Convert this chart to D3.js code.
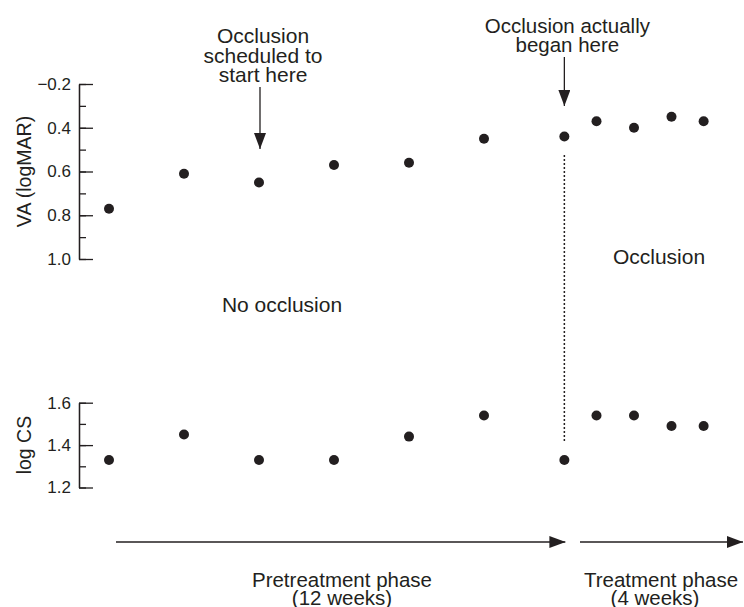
<!DOCTYPE html>
<html>
<head>
<meta charset="utf-8">
<script src="https://cdn.jsdelivr.net/npm/d3@7"></script>
<style>
  html, body { margin: 0; padding: 0; background: #fff; }
  svg { display: block; }
  text { font-family: "Liberation Sans", Arial, Helvetica, sans-serif; fill: #231f20; }
</style>
</head>
<body>
<svg id="chart" width="744" height="607"></svg>
<script>
// ---- data ----
const days = [0, 14, 28, 42, 56, 70, 85, 91, 98, 105, 111];
const vaValues = [0.77, 0.61, 0.65, 0.57, 0.56, 0.45, 0.44, 0.37, 0.40, 0.35, 0.37];
const csValues = [1.33, 1.45, 1.33, 1.33, 1.44, 1.54, 1.33, 1.54, 1.54, 1.49, 1.49];

const vaMinorTicks = [0.2, 0.3, 0.4, 0.5, 0.6, 0.7, 0.8, 0.9, 1.0];
const vaMajorTicks = [0.2, 0.4, 0.6, 0.8, 1.0];
const vaTickLabels = ["\u22120.2", "0.4", "0.6", "0.8", "1.0"];
const csMinorTicks = [1.2, 1.3, 1.4, 1.5, 1.6];
const csMajorTicks = [1.2, 1.4, 1.6];
const csTickLabels = ["1.2", "1.4", "1.6"];

const scheduledDay = 28;   // occlusion scheduled
const actualDay = 85;      // occlusion actually began
const pretreatmentLabel = ["Pretreatment phase", "(12 weeks)"];
const treatmentLabel = ["Treatment phase", "(4 weeks)"];

// ---- layout ----
const svg = d3.select("#chart");
const ink = "#231f20";
const axisX = 79;

const x = d3.scaleLinear().domain([0, 84]).range([109, 559]);
const yVA = d3.scaleLinear().domain([0.2, 1.0]).range([84, 259]);
const yCS = d3.scaleLinear().domain([1.2, 1.6]).range([487.5, 402.7]);

// arrow marker
const defs = svg.append("defs");
defs.append("marker")
  .attr("id", "head")
  .attr("viewBox", "0 0 16 12")
  .attr("refX", 16).attr("refY", 6)
  .attr("markerUnits", "userSpaceOnUse")
  .attr("markerWidth", 16).attr("markerHeight", 12)
  .attr("orient", "auto")
  .append("path").attr("d", "M0,0 L16,6 L0,12 Z").attr("fill", ink);

function drawAxis(scale, minor, major, labels) {
  const g = svg.append("g").attr("transform", `translate(${axisX},0)`);
  g.append("g")
    .call(d3.axisLeft(scale).tickValues(minor).tickSizeInner(-7).tickSizeOuter(0).tickFormat(""))
    .call(s => s.selectAll("path,line").attr("stroke", ink).attr("stroke-width", 1.3));
  g.append("g")
    .call(d3.axisLeft(scale).tickValues(major).tickSizeInner(-14).tickSizeOuter(0).tickPadding(8)
      .tickFormat((d, i) => labels[i]))
    .call(s => s.selectAll("path,line").attr("stroke", ink).attr("stroke-width", 1.3))
    .call(s => s.selectAll("text").attr("font-size", 17).attr("fill", ink)
      .style("font-family", '"Liberation Sans", Arial, sans-serif'));
}
drawAxis(yVA, vaMinorTicks, vaMajorTicks, vaTickLabels);
drawAxis(yCS, csMinorTicks, csMajorTicks, csTickLabels);

// axis titles
svg.append("text").attr("transform", `translate(24,${(yVA(0.2) + yVA(1.0)) / 2}) rotate(-90)`)
  .attr("text-anchor", "middle").attr("dy", "0.35em").attr("font-size", 19.5).text("VA (logMAR)");
svg.append("text").attr("transform", `translate(24,${(yCS(1.2) + yCS(1.6)) / 2}) rotate(-90)`)
  .attr("text-anchor", "middle").attr("dy", "0.35em").attr("font-size", 19.5).text("log CS");

// dotted line at actual start
svg.append("line")
  .attr("x1", x(actualDay)).attr("x2", x(actualDay))
  .attr("y1", 155).attr("y2", 443)
  .attr("stroke", ink).attr("stroke-width", 1.5).attr("stroke-dasharray", "2,2");

// points
svg.append("g").selectAll("circle").data(days).join("circle")
  .attr("cx", (d) => x(d)).attr("cy", (d, i) => yVA(vaValues[i])).attr("r", 5).attr("fill", ink);
svg.append("g").selectAll("circle").data(days).join("circle")
  .attr("cx", (d) => x(d)).attr("cy", (d, i) => yCS(csValues[i])).attr("r", 5).attr("fill", ink);

// annotations
function multiline(lines, cxs, y0, step, size) {
  const t = svg.append("text").attr("text-anchor", "middle").attr("font-size", size);
  lines.forEach((l, i) => t.append("tspan")
    .attr("x", Array.isArray(cxs) ? cxs[i] : cxs).attr("y", y0 + i * step).text(l));
}
multiline(["Occlusion", "scheduled to", "start here"], x(scheduledDay) + 4, 43, 19.7, 21);
svg.append("line").attr("x1", x(scheduledDay) + 1).attr("x2", x(scheduledDay) + 1)
  .attr("y1", 87).attr("y2", 149).attr("stroke", ink).attr("stroke-width", 1.3)
  .attr("marker-end", "url(#head)");

multiline(["Occlusion actually", "began here"], x(actualDay) + 3, 32.5, 19, 20.5);
svg.append("line").attr("x1", x(actualDay)).attr("x2", x(actualDay))
  .attr("y1", 57).attr("y2", 106).attr("stroke", ink).attr("stroke-width", 1.3)
  .attr("marker-end", "url(#head)");

svg.append("text").attr("x", 282).attr("y", 312).attr("text-anchor", "middle")
  .attr("font-size", 21).text("No occlusion");
svg.append("text").attr("x", 659).attr("y", 264).attr("text-anchor", "middle")
  .attr("font-size", 21).text("Occlusion");

// phase arrows
const arrowY = 542;
svg.append("line").attr("x1", 116).attr("x2", x(actualDay) + 1)
  .attr("y1", arrowY).attr("y2", arrowY).attr("stroke", ink).attr("stroke-width", 1.3)
  .attr("marker-end", "url(#head)");
svg.append("line").attr("x1", 580).attr("x2", 743)
  .attr("y1", arrowY).attr("y2", arrowY).attr("stroke", ink).attr("stroke-width", 1.3)
  .attr("marker-end", "url(#head)");

multiline(pretreatmentLabel, 342, 587, 18, 20.5);
multiline(treatmentLabel, [661, 655], 587, 18, 20.5);
</script>
</body>
</html>
